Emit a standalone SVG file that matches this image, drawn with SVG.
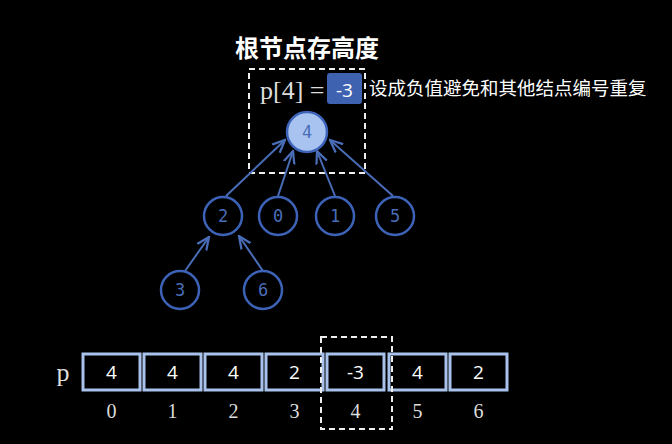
<svg xmlns="http://www.w3.org/2000/svg" width="672" height="444" viewBox="0 0 672 444">
<style>
.n{fill:#000;stroke:#3d63b8;stroke-width:2.5}
.nt{font-family:"DejaVu Sans Mono",monospace;font-size:17px;fill:#4a6db8;text-anchor:middle}
.c{fill:#000;stroke:#a8c2ec;stroke-width:3}
.ct{font-family:"Open Sans","Liberation Sans",sans-serif;font-size:19px;fill:#fff;text-anchor:middle}
.it{font-family:"Liberation Serif",serif;font-size:20px;fill:#ddd;text-anchor:middle}
.d{fill:none;stroke:#eee;stroke-width:2;stroke-dasharray:6 4}
.e{stroke:#4a6db8;stroke-width:2;fill:none;marker-end:url(#a)}
</style>
<defs><marker id="a" viewBox="0 0 10 10" refX="9" refY="5" markerWidth="7" markerHeight="7" orient="auto"><path d="M0,1 L9,5 L0,9" fill="none" stroke="#4a6db8" stroke-width="1.6"/></marker></defs>
<rect width="672" height="444" fill="#000"/>
<text x="307" y="57" font-family="Noto Sans CJK SC,sans-serif" font-weight="bold" font-size="24" fill="#fff" text-anchor="middle">根节点存高度</text>
<rect class="d" x="249" y="69" width="116" height="104"/>
<text x="260" y="99" font-family="Liberation Serif,serif" font-size="26" fill="#ddd">p[4] =</text>
<rect x="327" y="73" width="35" height="31" rx="3" fill="#3f62b0"/>
<text x="344.5" y="97" class="ct" font-size="22">-3</text>
<text x="369" y="95" font-family="Noto Sans CJK SC,sans-serif" font-size="18.5" fill="#fff">设成负值避免和其他结点编号重复</text>
<g id="connectors">
<line class="e" x1="226" y1="196" x2="285" y2="140"/>
<line class="e" x1="278" y1="196" x2="293" y2="151"/>
<line class="e" x1="335" y1="196" x2="317" y2="151"/>
<line class="e" x1="393" y1="196" x2="330" y2="140"/>
<line class="e" x1="185" y1="271" x2="209" y2="237"/>
<line class="e" x1="263" y1="271" x2="239" y2="236"/>
</g>
<g id="n4"><circle cx="307" cy="132" r="20" fill="#a9c3f0" stroke="#3d63b8" stroke-width="2.5"/><text x="307" y="138" class="nt">4</text></g>
<g id="n2"><circle class="n" cx="223" cy="216" r="19"/><text x="223" y="222" class="nt">2</text></g>
<g id="n0"><circle class="n" cx="278" cy="216" r="19"/><text x="278" y="222" class="nt">0</text></g>
<g id="n1"><circle class="n" cx="335" cy="216" r="19"/><text x="335" y="222" class="nt">1</text></g>
<g id="n5"><circle class="n" cx="395" cy="216" r="19"/><text x="395" y="222" class="nt">5</text></g>
<g id="n3"><circle class="n" cx="180" cy="290" r="19"/><text x="180" y="296" class="nt">3</text></g>
<g id="n6"><circle class="n" cx="263" cy="290" r="19"/><text x="263" y="296" class="nt">6</text></g>
<text x="63" y="381" font-family="Liberation Serif,serif" font-size="26" fill="#ddd" text-anchor="middle">p</text>
<g id="array">
<rect class="c" x="83" y="354" width="57" height="36"/><text class="ct" x="111.5" y="379">4</text><text class="it" x="111.5" y="418">0</text>
<rect class="c" x="144" y="354" width="57" height="36"/><text class="ct" x="172.5" y="379">4</text><text class="it" x="172.5" y="418">1</text>
<rect class="c" x="205" y="354" width="57" height="36"/><text class="ct" x="233.5" y="379">4</text><text class="it" x="233.5" y="418">2</text>
<rect class="c" x="266" y="354" width="57" height="36"/><text class="ct" x="294.5" y="379">2</text><text class="it" x="294.5" y="418">3</text>
<rect class="c" x="327" y="354" width="57" height="36"/><text class="ct" x="355.5" y="379">-3</text><text class="it" x="355.5" y="418">4</text>
<rect class="c" x="389" y="354" width="57" height="36"/><text class="ct" x="417.5" y="379">4</text><text class="it" x="417.5" y="418">5</text>
<rect class="c" x="450" y="354" width="57" height="36"/><text class="ct" x="478.5" y="379">2</text><text class="it" x="478.5" y="418">6</text>
</g>
<rect class="d" x="321" y="337" width="71" height="92"/>
</svg>
